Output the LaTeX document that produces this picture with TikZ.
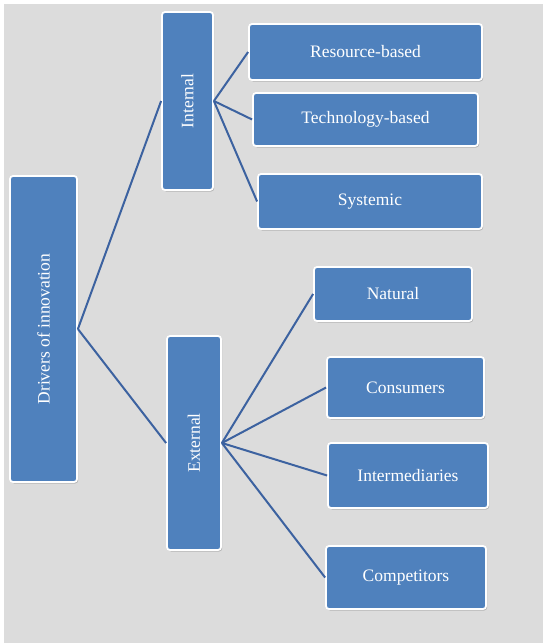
\documentclass[tikz,border=0pt]{standalone}
\usepackage{fontspec}
\usepackage{graphicx}
\setmainfont{Liberation Serif}
\usetikzlibrary{shadows}
\definecolor{boxblue}{HTML}{4F81BD}
\definecolor{linkblue}{HTML}{3C62A0}
\definecolor{bggray}{HTML}{DCDCDC}
\tikzset{
  box/.style={rectangle, rounded corners=3pt, fill=boxblue, draw=white, line width=1.8pt,
    text=white, font=\fontsize{17.5}{20}\selectfont, inner sep=0pt,
    drop shadow={shadow xshift=1.2pt, shadow yshift=-1.5pt, fill=black, opacity=0.18}},
  link/.style={draw=linkblue, line width=2pt}
}
\begin{document}
\begin{tikzpicture}[x=1pt,y=-1pt]
\useasboundingbox (0,0) rectangle (543,643);
\fill[white] (0,0) rectangle (543,643);
\fill[bggray] (4,4) rectangle (543,643);

\node[box, minimum width=67pt, minimum height=306pt] (drivers) at (43.5,329) {\rotatebox{90}{Drivers of innovation}};
\node[box, minimum width=51pt, minimum height=178pt] (internal) at (187.5,101) {\rotatebox{90}{Internal}};
\node[box, minimum width=54pt, minimum height=214pt] (external) at (194,443) {\rotatebox{90}{External}};

\node[box, minimum width=233pt, minimum height=56pt] (res) at (365.5,52) {Resource-based};
\node[box, minimum width=225pt, minimum height=53pt] (tech) at (365.5,119.5) {Technology-based};
\node[box, minimum width=224pt, minimum height=55pt] (sys) at (370,201.5) {Systemic};

\node[box, minimum width=158pt, minimum height=54pt] (nat) at (393,294) {Natural};
\node[box, minimum width=157pt, minimum height=61pt] (cons) at (405.5,387.5) {Consumers};
\node[box, minimum width=160pt, minimum height=65pt] (inter) at (408,475.5) {Intermediaries};
\node[box, minimum width=160pt, minimum height=63pt] (comp) at (406,577.5) {Competitors};

\draw[link] (drivers.east) -- (internal.west);
\draw[link] (drivers.east) -- (external.west);
\draw[link] (internal.east) -- (res.west);
\draw[link] (internal.east) -- (tech.west);
\draw[link] (internal.east) -- (sys.west);
\draw[link] (external.east) -- (nat.west);
\draw[link] (external.east) -- (cons.west);
\draw[link] (external.east) -- (inter.west);
\draw[link] (external.east) -- (comp.west);
\end{tikzpicture}
\end{document}
